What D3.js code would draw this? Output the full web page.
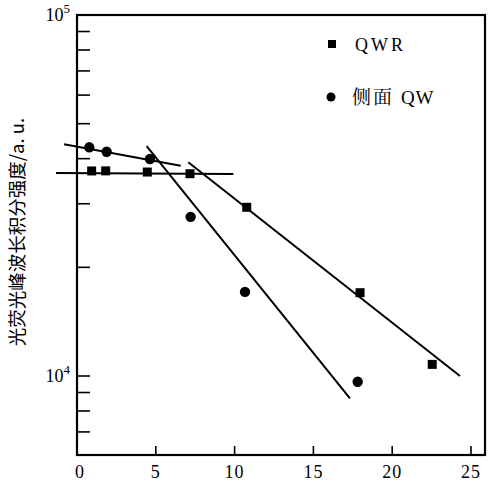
<!DOCTYPE html>
<html lang="zh">
<head>
  <meta charset="UTF-8">
  <title>积分强度</title>
  <style>
    body { margin: 0; background: #fff; }
    text { fill: #000; }
  </style>
</head>
<body>
  <script src="https://d3js.org/d3.v7.min.js"></script>
  <script>
    // QWR (squares)
    const qwrX = [0.93, 1.82, 4.46, 7.17, 10.77, 17.96, 22.54];
    const qwrY = [36980, 37000, 36730, 36340, 29330, 17010, 10770];
    // 侧面 QW (circles)
    const qwX = [0.78, 1.88, 4.63, 7.21, 10.66, 17.81];
    const qwY = [43000, 41800, 39900, 27600, 17100, 9640];

    // hand-drawn fit lines: [x1, y1, x2, y2]
    const fitLines = [
      [-0.82, 43840, 6.58, 38240],
      [-1.33, 36500, 9.92, 36280],
      [4.42, 43360, 17.32, 8670],
      [7.06, 39080, 24.3, 10000]
    ];

    const xTicks = [0, 5, 10, 15, 20, 25];
    const yMinor = [7000, 8000, 9000, 20000, 30000, 40000, 50000, 60000, 70000, 80000, 90000];

    const W = 492, H = 486;
    const mLeft = 77, mRight = 485, mTop = 15, mBottom = 455;
    const serif = "'Liberation Serif', 'DejaVu Serif', serif";
    const cjk = "'Noto Sans CJK SC', sans-serif";

    const svg = d3.select("body").append("svg")
      .attr("width", W).attr("height", H);

    const x = d3.scaleLinear().domain([0, 25]).range([mLeft, 471]);
    const y = d3.scaleLog().domain([1e4, 1e5]).range([376, mTop]);

    // frame
    svg.append("rect")
      .attr("x", mLeft).attr("y", mTop)
      .attr("width", mRight - mLeft).attr("height", mBottom - mTop)
      .attr("fill", "none").attr("stroke", "#000").attr("stroke-width", 2.2);

    // y ticks (inside)
    svg.append("g").selectAll("line")
      .data(yMinor.concat([1e4]))
      .join("line")
      .attr("x1", mLeft).attr("x2", mLeft + 13)
      .attr("y1", d => y(d)).attr("y2", d => y(d))
      .attr("stroke", "#000").attr("stroke-width", 1.6);

    // x ticks (inside)
    svg.append("g").selectAll("line")
      .data(xTicks.slice(1))
      .join("line")
      .attr("x1", d => x(d)).attr("x2", d => x(d))
      .attr("y1", mBottom).attr("y2", mBottom - 9)
      .attr("stroke", "#000").attr("stroke-width", 1.6);

    svg.append("g").selectAll("text")
      .data(xTicks)
      .join("text")
      .attr("x", d => x(d) + (d === 0 ? 3 : 0))
      .attr("y", 478)
      .attr("text-anchor", "middle")
      .style("font-family", serif)
      .attr("font-size", 18)
      .attr("letter-spacing", 1)
      .text(d => d);

    // y tick labels 10^5, 10^4
    [[1e5, "5"], [1e4, "4"]].forEach(([v, e]) => {
      const t = svg.append("text")
        .attr("x", 70).attr("y", y(v) + 6)
        .attr("text-anchor", "end")
        .style("font-family", serif)
        .attr("font-size", 18);
      t.append("tspan").text("10");
      t.append("tspan").attr("dy", -8).attr("font-size", 13).text(e);
    });

    // y label
    svg.append("text")
      .attr("transform", "translate(24," + 232 + ") rotate(-90)")
      .attr("text-anchor", "middle")
      .style("font-family", cjk)
      .attr("font-size", 18.5)
      .text("光荧光峰波长积分强度/a. u.");

    // fit lines
    svg.append("g").selectAll("line")
      .data(fitLines)
      .join("line")
      .attr("x1", d => x(d[0])).attr("y1", d => y(d[1]))
      .attr("x2", d => x(d[2])).attr("y2", d => y(d[3]))
      .attr("stroke", "#000").attr("stroke-width", 2);

    // squares
    svg.append("g").selectAll("rect")
      .data(d3.zip(qwrX, qwrY))
      .join("rect")
      .attr("x", d => x(d[0]) - 4.5).attr("y", d => y(d[1]) - 4.5)
      .attr("width", 9).attr("height", 9)
      .attr("fill", "#000");

    // circles
    svg.append("g").selectAll("circle")
      .data(d3.zip(qwX, qwY))
      .join("circle")
      .attr("cx", d => x(d[0])).attr("cy", d => y(d[1]))
      .attr("r", 5.2)
      .attr("fill", "#000");

    // legend
    svg.append("rect").attr("x", 328).attr("y", 40).attr("width", 8).attr("height", 8).attr("fill", "#000");
    svg.append("text").attr("x", 355).attr("y", 51)
      .style("font-family", serif).attr("font-size", 18)
      .attr("letter-spacing", 3).text("QWR");
    svg.append("circle").attr("cx", 331).attr("cy", 97).attr("r", 4.5).attr("fill", "#000");
    const lg = svg.append("text").attr("x", 352).attr("y", 104).attr("font-size", 19);
    lg.append("tspan").style("font-family", "'Noto Serif CJK SC', " + cjk).attr("letter-spacing", 2).text("侧面 ");
    lg.append("tspan").style("font-family", serif).attr("letter-spacing", 1).text("QW");
  </script>
</body>
</html>
